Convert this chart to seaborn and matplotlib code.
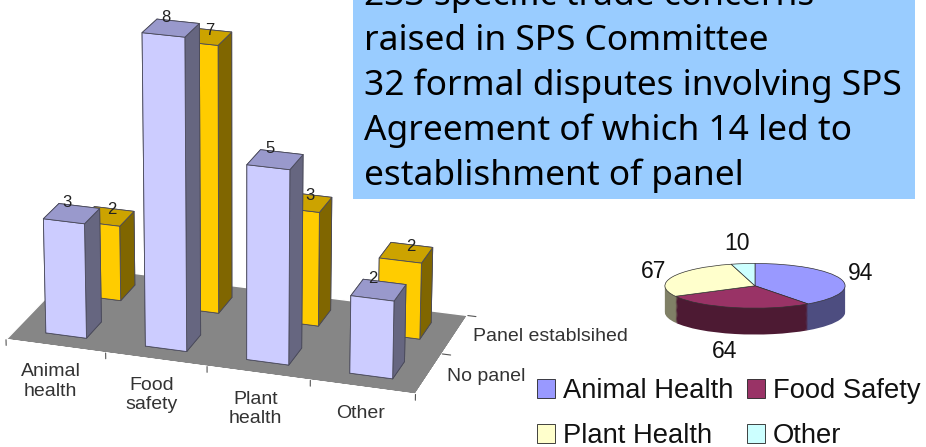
import numpy as np
import matplotlib
matplotlib.use("Agg")
import matplotlib.pyplot as plt
from matplotlib.patches import Patch, Rectangle
import seaborn as sns

# Data
categories = ["Animal\nhealth", "Food\nsafety", "Plant\nhealth", "Other"]
no_panel = [3, 8, 5, 2]
panel = [2, 7, 3, 2]
depth_labels = ["No panel", "Panel establsihed"]

pie_labels = ["Animal Health", "Food Safety", "Plant Health", "Other"]
pie_values = [94, 64, 67, 10]

box_lines = [
    "233 specific trade concerns",
    "raised in SPS Committee",
    "32 formal disputes involving SPS",
    "Agreement of which 14 led to",
    "establishment of panel",
]

sns.set_theme(style="white")
plt.rcParams["font.family"] = ["Liberation Sans", "DejaVu Sans"]

W, H = 926, 447
fig = plt.figure(figsize=(W / 100, H / 100), dpi=100, facecolor="white")

# 3D bars
size = 800
cx, cy = 228, 186
ax = fig.add_axes([(cx - size / 2) / W, 1 - (cy + size / 2) / H, size / W, size / H], projection="3d")
ax.patch.set_alpha(0)
ax.set_proj_type("persp", focal_length=0.8)
ax.view_init(elev=21, azim=-72)
ax.set_xlim(0, 4)
ax.set_ylim(0, 2)
ax.set_zlim(0, 8)
ax.set_box_aspect((4.2, 2, 3.26), zoom=0.702)
ax.set_xticks([])
ax.set_yticks([])
ax.set_zticks([])
ax.set_axis_off()
ax.computed_zorder = False

ax.bar3d(0, 0, 0, 4, 2, 0.001, color="#868686", shade=False, zorder=1)


def draw_bars(values, depth, front, top, side, z, label_dx, label_dz):
    n = len(values)
    xs = np.arange(n) + 0.3
    ys = np.full(n, depth + 0.28)
    # face order in bar3d: bottom, top, front, back, left, right
    faces = [side, top, front, side, side, side] * n
    ax.bar3d(xs, ys, np.zeros(n), 0.41, 0.43, values, color=faces, shade=False,
             edgecolor="#4a4a5a", linewidth=0.6, zorder=z)
    for i, v in enumerate(values):
        ax.text(xs[i] + label_dx, ys[i] + 0.3, v + label_dz, str(v), ha="center", va="center",
                fontsize=12, color="#222222", zorder=6)


draw_bars(panel, 1, "#FFCC00", "#CCA300", "#806600", 3, 0.23, 0.1)
draw_bars(no_panel, 0, "#CCCCFF", "#9999CC", "#666680", 4, 0.13, 0.18)

# floor ticks and labels
for i in range(5):
    ax.plot([i, i], [0, 0], [0, -0.15], color="#555555", lw=0.8, zorder=2)
for i in [1, 2]:
    ax.plot([4, 4.08], [i, i], [0, 0], color="#555555", lw=0.8, zorder=2)
for i, name in enumerate(categories):
    ax.text(i + 0.59, -0.39, 0, name, ha="center", va="top", fontsize=14, color="#333333",
            linespacing=1.2, zorder=6)
for i, name in enumerate(depth_labels):
    ax.text(4.17, i + 0.5, 0, name, ha="left", va="center", fontsize=14, color="#333333", zorder=6)

# Blue text box
fig.add_artist(Rectangle((353 / W, 1 - 199 / H), (915 - 353) / W, 199 / H, transform=fig.transFigure,
                         facecolor="#99CCFF", edgecolor="none", zorder=5))
for i, line in enumerate(box_lines):
    fig.text(364 / W, 1 - (5 + 45 * i) / H, line, fontsize=25.4, family="Noto Sans", color="black",
             ha="left", va="baseline", zorder=6)

# Pie with dark copies below for the thickness
pie_front = ["#9999FF", "#993366", "#FFFFCC", "#CCFFFF"]
pie_dark = ["#4D4D80", "#4D1A33", "#808066", "#668080"]
pax = fig.add_axes([(755 - 91) / W, 1 - 335 / H, 182 / W, 72 / H])
for off in np.linspace(1.18, 0.02, 30):
    pax.pie(pie_values, colors=pie_dark, startangle=90, counterclock=False, center=(0, -off), radius=1,
            wedgeprops={"linewidth": 0})
pax.pie(pie_values, colors=pie_front, startangle=90, counterclock=False, radius=1,
        wedgeprops={"edgecolor": "#333333", "linewidth": 0.5})
pax.set_aspect("auto")
pax.set_xlim(-1.01, 1.01)
pax.set_ylim(-2.2, 1.02)
pax.axis("off")
for v, (x, y) in zip(pie_values, [(861, 273), (725, 352), (654, 272), (737, 244)]):
    fig.text(x / W, 1 - y / H, str(v), fontsize=16.5, color="#111111", ha="center", va="center")

handles = [Patch(facecolor=c, edgecolor="#222222", linewidth=0.6) for c in pie_front]
order = [0, 2, 1, 3]
fig.legend([handles[i] for i in order], [pie_labels[i] for i in order], ncol=2, frameon=False,
           fontsize=19.7, loc="upper left", bbox_to_anchor=(537 / W, 1 - 378 / H), handlelength=0.65,
           handleheight=0.65, handletextpad=0.3, labelspacing=0.7, columnspacing=0.5, borderpad=0,
           borderaxespad=0, labelcolor="#111111")

fig.savefig("out.png", dpi=100)
